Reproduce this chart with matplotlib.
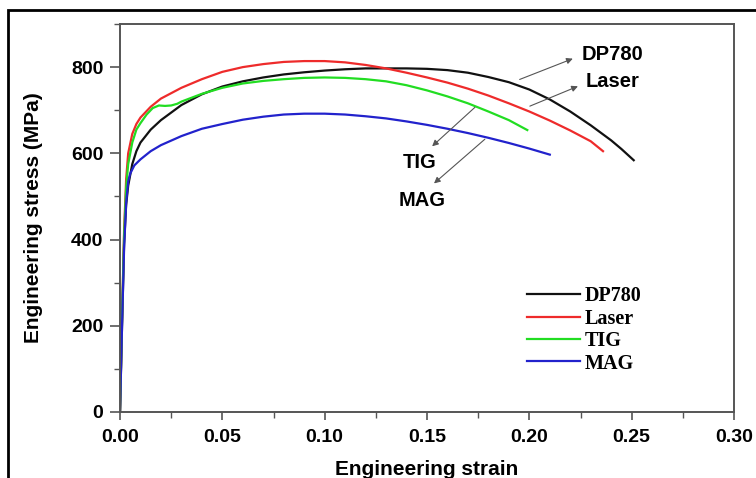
import matplotlib
matplotlib.use("Agg")
import matplotlib.pyplot as plt
from matplotlib.patches import Rectangle
from matplotlib.ticker import MultipleLocator, FormatStrFormatter

plt.rcParams['font.family'] = ['Liberation Sans', 'DejaVu Sans']

# engineering strain / stress (MPa)
dp780_strain = [0, 0.001, 0.002, 0.003, 0.004, 0.006, 0.008, 0.01, 0.015, 0.02, 0.03, 0.04,
                0.05, 0.06, 0.07, 0.08, 0.09, 0.10, 0.11, 0.12, 0.13, 0.14, 0.15, 0.16, 0.17,
                0.18, 0.19, 0.20, 0.21, 0.22, 0.23, 0.24, 0.245, 0.251]
dp780_stress = [0, 200, 390, 480, 525, 575, 605, 625, 655, 677, 712, 737,
                755, 767, 776, 783, 788, 792, 795, 797, 797, 797, 796, 793, 787,
                777, 765, 748, 725, 697, 665, 630, 610, 584]

laser_strain = [0, 0.001, 0.002, 0.003, 0.004, 0.006, 0.008, 0.01, 0.015, 0.02, 0.03, 0.04,
                0.05, 0.06, 0.07, 0.08, 0.09, 0.10, 0.11, 0.12, 0.13, 0.14, 0.15, 0.16, 0.17,
                0.18, 0.19, 0.20, 0.21, 0.22, 0.23, 0.236]
laser_stress = [0, 220, 420, 540, 600, 645, 668, 683, 708, 727, 752, 772,
                789, 800, 807, 812, 814, 814, 811, 805, 797, 787, 776, 764, 750,
                734, 716, 697, 676, 653, 628, 605]

tig_strain = [0, 0.001, 0.002, 0.003, 0.004, 0.006, 0.008, 0.01, 0.013, 0.016, 0.019, 0.022,
              0.025, 0.028, 0.03, 0.04, 0.05, 0.06, 0.07, 0.08, 0.09, 0.10, 0.11, 0.12, 0.13,
              0.14, 0.15, 0.16, 0.17, 0.18, 0.19, 0.199]
tig_stress = [0, 215, 410, 520, 575, 625, 655, 670, 690, 705, 711, 710,
              711, 715, 720, 738, 752, 762, 768, 772, 775, 776, 775, 772, 767,
              758, 746, 732, 716, 697, 677, 654]

mag_strain = [0, 0.001, 0.002, 0.003, 0.004, 0.005, 0.007, 0.01, 0.015, 0.02, 0.03, 0.04,
              0.05, 0.06, 0.07, 0.08, 0.09, 0.10, 0.11, 0.12, 0.13, 0.14, 0.15, 0.16, 0.17,
              0.18, 0.19, 0.20, 0.21]
mag_stress = [0, 200, 380, 485, 535, 553, 572, 586, 605, 619, 640, 657,
              668, 678, 685, 690, 692, 692, 690, 686, 681, 674, 666, 657, 647,
              636, 624, 611, 597]

labels = ["DP780", "Laser", "TIG", "MAG"]
colors = ["#111111", "#ee2b2b", "#22dd22", "#2222cc"]

fig = plt.figure(figsize=(7.56, 4.78), dpi=100)
ax = fig.add_axes([120/756, 1 - 412/478, 614/756, 388/478])

series = [(dp780_strain, dp780_stress), (laser_strain, laser_stress),
          (tig_strain, tig_stress), (mag_strain, mag_stress)]
for (x, y), lab, c in zip(series, labels, colors):
    ax.plot(x, y, color=c, lw=1.6, label=lab)

ax.set_xlim(0, 0.30)
ax.set_ylim(0, 900)
ax.xaxis.set_major_locator(MultipleLocator(0.05))
ax.xaxis.set_minor_locator(MultipleLocator(0.025))
ax.yaxis.set_minor_locator(MultipleLocator(100))
ax.set_yticks([0, 200, 400, 600, 800])
ax.xaxis.set_major_formatter(FormatStrFormatter("%.2f"))
ax.tick_params(which="major", direction="out", length=7, width=1.2, color="#555555",
               labelsize=14)
ax.tick_params(axis="x", which="major", length=6, pad=6)
ax.tick_params(axis="y", which="major", pad=5)
ax.tick_params(which="minor", direction="out", length=4, width=1.0, color="#555555")
for t in ax.get_xticklabels() + ax.get_yticklabels():
    t.set_fontweight("bold")
for s in ax.spines.values():
    s.set_color("#555555")
    s.set_linewidth(1.4)

ax.set_xlabel("Engineering strain", fontsize=15, fontweight="bold", labelpad=10)
ax.set_ylabel("Engineering stress (MPa)", fontsize=15, fontweight="bold", labelpad=20)

# callouts
arrow = dict(arrowstyle="-|>", color="#555555", lw=0.8, mutation_scale=9)
ax.annotate("", xy=(0.2225, 822), xytext=(0.194, 769), arrowprops=arrow)
ax.text(0.2255, 830, "DP780", fontsize=14.5, fontweight="bold", va="center", ha="left")
ax.annotate("", xy=(0.2250, 758), xytext=(0.199, 707), arrowprops=arrow)
ax.text(0.2275, 767, "Laser", fontsize=14.5, fontweight="bold", va="center", ha="left")
ax.annotate("", xy=(0.1515, 612), xytext=(0.1744, 711), arrowprops=arrow)
ax.text(0.1466, 578, "TIG", fontsize=14.5, fontweight="bold", va="center", ha="center")
ax.annotate("", xy=(0.1524, 526), xytext=(0.1793, 637), arrowprops=arrow)
ax.text(0.1476, 491, "MAG", fontsize=14.5, fontweight="bold", va="center", ha="center")

leg = ax.legend(loc="upper left", bbox_to_anchor=(0.647, 0.35), frameon=False,
                prop={"family": "Liberation Serif", "weight": "bold", "size": 14.5},
                handlelength=2.6, handletextpad=0.25, labelspacing=0.12, borderpad=0)

# outer frame around the figure
fig.patches.append(Rectangle((8/756, -0.2), 2.0, 1.2 - 10/478, transform=fig.transFigure,
                             fill=False, edgecolor="black", lw=2))

fig.savefig("out.png", dpi=100)
